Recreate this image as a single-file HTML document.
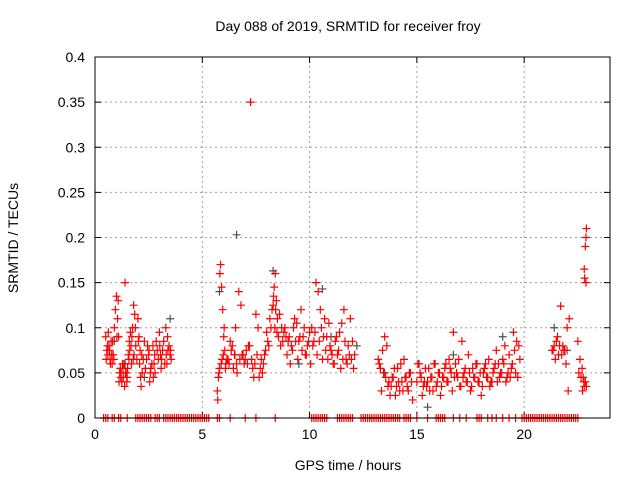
<!DOCTYPE html>
<html><head><meta charset="utf-8"><style>
body{margin:0;background:#fff;font-family:"Liberation Sans",sans-serif}
svg text{font-family:"Liberation Sans",sans-serif;font-size:14px;fill:#000}
</style></head><body>
<svg id="c" width="640" height="480" xmlns="http://www.w3.org/2000/svg">
<text x="348" y="31" text-anchor="middle">Day 088 of 2019, SRMTID for receiver froy</text>
<text x="348" y="470" text-anchor="middle">GPS time / hours</text>
<text transform="translate(18,238) rotate(-90)" text-anchor="middle">SRMTID / TECUs</text>
<g id="grid"></g>
<g id="ticks"></g>
<g id="grey"></g>
<g id="red"></g>
<rect x="95" y="57" width="515" height="361" fill="none" stroke="#000" stroke-width="1"/>
</svg>
<script>
const xTicks=[0,5,10,15,20];
const yTicks=[0,0.05,0.1,0.15,0.2,0.25,0.3,0.35,0.4];
const yLabels=["0","0.05","0.1","0.15","0.2","0.25","0.3","0.35","0.4"];
const redT=[0.5,0.55,0.6,0.65,0.7,0.75,0.8,0.85,0.9,0.95,1.0,1.05,1.1,1.15,1.2,1.25,1.3,1.35,1.4,1.45,1.5,1.55,1.6,1.65,1.7,1.75,1.8,1.85,1.9,1.95,2.0,2.05,2.1,2.15,2.2,2.3,2.4,2.5,2.55,2.6,2.7,2.75,2.8,2.9,3.0,3.05,3.1,3.2,3.3,3.35,3.4,3.5,3.55,
5.7,5.75,5.8,5.82,5.85,5.9,5.95,6.0,6.05,6.1,6.2,6.3,6.4,6.5,6.55,6.6,6.7,6.8,6.9,7.0,7.1,7.2,7.25,7.3,7.4,7.5,7.6,7.7,7.8,7.9,8.0,8.1,8.2,8.3,8.35,8.4,8.45,8.5,8.6,8.7,8.8,8.9,9.0,9.1,9.2,9.3,9.4,9.5,9.6,9.7,9.8,9.9,10.0,10.1,10.2,10.3,10.4,10.5,10.6,10.7,10.8,10.9,11.0,11.1,11.2,11.3,11.4,11.5,11.6,11.7,11.8,11.9,12.0,12.1,
13.2,13.3,13.4,13.5,13.6,13.7,13.8,13.9,14.0,14.1,14.2,14.3,14.4,14.5,14.6,14.7,14.8,15.0,15.1,15.2,15.3,15.4,15.5,15.6,15.7,15.8,15.9,16.0,16.1,16.2,16.3,16.4,16.5,16.6,16.7,16.8,16.9,17.0,17.1,17.2,17.3,17.4,17.5,17.6,17.7,17.8,17.9,18.0,18.1,18.2,18.3,18.4,18.5,18.6,18.7,18.8,18.9,19.0,19.1,19.2,19.3,19.4,19.5,19.6,19.7,19.8,
21.3,21.4,21.5,21.6,21.7,21.8,21.9,22.0,22.1,22.5,22.6,22.7,22.75,22.8,22.85,22.9];
const redV=[0.09,0.075,0.07,0.08,0.065,0.085,0.06,0.07,0.1,0.12,0.135,0.11,0.09,0.05,0.045,0.04,0.055,0.06,0.15,0.05,0.045,0.07,0.085,0.095,0.06,0.1,0.125,0.115,0.08,0.065,0.11,0.09,0.075,0.035,0.05,0.085,0.065,0.07,0.04,0.055,0.08,0.06,0.05,0.075,0.095,0.07,0.065,0.085,0.1,0.06,0.075,0.07,0.065,
0.03,0.045,0.055,0.16,0.17,0.145,0.12,0.09,0.075,0.06,0.065,0.085,0.08,0.07,0.1,0.06,0.14,0.125,0.07,0.065,0.06,0.08,0.35,0.065,0.045,0.115,0.1,0.055,0.05,0.07,0.095,0.08,0.1,0.125,0.145,0.16,0.13,0.11,0.115,0.1,0.095,0.09,0.085,0.06,0.075,0.11,0.105,0.085,0.12,0.09,0.07,0.08,0.095,0.1,0.085,0.15,0.14,0.12,0.065,0.11,0.09,0.105,0.075,0.06,0.085,0.07,0.095,0.105,0.12,0.065,0.08,0.11,0.085,0.07,0.065,0.055,0.075,0.09,0.08,
0.04,0.035,0.045,0.025,0.055,0.03,0.04,0.065,0.045,0.03,0.05,0.02,0.04,0.06,0.045,0.035,0.055,0.04,0.03,0.045,0.06,0.035,0.05,0.025,0.045,0.055,0.04,0.065,0.05,0.095,0.06,0.045,0.035,0.085,0.05,0.04,0.07,0.03,0.055,0.045,0.06,0.04,0.025,0.05,0.06,0.045,0.035,0.04,0.055,0.075,0.06,0.05,0.065,0.08,0.045,0.07,0.055,0.095,0.05,0.045,0.065,0.075,0.08,0.085,0.07,0.124,
0.08,0.075,0.1,0.11,0.085,0.065,0.055,0.045,0.035,0.04,0.035,0.05,0.065,0.165,0.19,0.21];
const red2T=[0.52,0.58,0.62,0.68,0.72,0.78,0.82,0.88,1.02,1.08,1.12,1.18,1.22,1.28,1.32,1.38,1.42,1.48,1.52,1.58,1.62,1.68,1.72,1.78,1.82,1.88,2.02,2.08,2.12,2.18,2.25,2.35,2.45,2.52,2.58,2.65,2.72,2.78,2.85,2.95,3.02,3.08,3.15,3.25,3.32,3.38,3.45,3.52,
5.72,5.78,5.88,5.92,5.98,6.02,6.08,6.15,6.25,6.35,6.45,6.52,6.62,6.75,6.85,6.95,7.05,7.15,7.35,7.45,7.55,7.65,7.75,7.85,7.95,8.05,8.15,8.25,8.32,8.38,8.42,8.48,8.55,8.65,8.75,8.85,8.95,9.05,9.15,9.25,9.35,9.45,9.55,9.65,9.75,9.85,9.95,10.05,10.15,10.25,10.35,10.45,10.55,10.65,10.75,10.85,10.95,11.05,11.15,11.25,11.35,11.45,11.55,11.65,11.75,11.85,11.95,12.05,
13.25,13.35,13.45,13.55,13.65,13.75,13.85,13.95,14.05,14.15,14.25,14.35,14.45,14.55,14.65,14.75,15.05,15.15,15.25,15.35,15.45,15.55,15.65,15.75,15.85,15.95,16.05,16.15,16.25,16.35,16.45,16.55,16.65,16.75,16.85,16.95,17.05,17.15,17.25,17.35,17.45,17.55,17.65,17.75,17.85,17.95,18.05,18.15,18.25,18.35,18.45,18.55,18.65,18.75,18.85,18.95,19.05,19.15,19.25,19.35,19.45,19.55,19.65,19.75,
21.35,21.45,21.55,21.65,21.75,21.85,21.95,22.05,22.55,22.65,22.72,22.78,22.82,22.88];
const red2V=[0.065,0.08,0.095,0.075,0.06,0.07,0.085,0.065,0.09,0.13,0.04,0.055,0.05,0.06,0.045,0.035,0.05,0.04,0.055,0.065,0.075,0.08,0.09,0.065,0.07,0.1,0.085,0.06,0.045,0.07,0.065,0.055,0.08,0.075,0.05,0.06,0.045,0.07,0.085,0.065,0.08,0.055,0.075,0.06,0.07,0.09,0.08,0.075,
0.02,0.05,0.06,0.065,0.07,0.1,0.055,0.065,0.06,0.075,0.055,0.07,0.05,0.065,0.07,0.06,0.075,0.08,0.055,0.06,0.07,0.045,0.065,0.06,0.075,0.085,0.11,0.12,0.135,0.1,0.12,0.095,0.09,0.08,0.085,0.1,0.07,0.09,0.08,0.1,0.085,0.065,0.09,0.075,0.1,0.07,0.085,0.06,0.08,0.095,0.07,0.085,0.1,0.09,0.075,0.065,0.08,0.07,0.06,0.09,0.075,0.055,0.065,0.085,0.06,0.07,0.065,0.055,0.06,
0.03,0.05,0.045,0.035,0.025,0.045,0.055,0.035,0.04,0.06,0.03,0.045,0.035,0.05,0.04,0.06,0.05,0.025,0.04,0.035,0.055,0.045,0.03,0.06,0.04,0.05,0.035,0.045,0.06,0.04,0.055,0.03,0.045,0.05,0.065,0.035,0.045,0.055,0.04,0.05,0.035,0.045,0.06,0.04,0.05,0.035,0.055,0.045,0.065,0.04,0.05,0.06,0.04,0.045,0.05,0.06,0.04,0.05,0.045,0.06,0.075,0.085,0.08,0.075,
0.065,0.09,0.08,0.07,0.075,0.06,0.03,0.05,0.045,0.03,0.04,0.155,0.15,0.175];
const lateT=[22.8,22.85,22.88,22.9];
const lateV=[0.165,0.19,0.2,0.21];
const greyT=[0.9,1.4,2.3,3.5,5.8,6.6,8.3,9.5,10.6,11.0,12.2,13.5,15.5,16.7,19.0,21.4,22.0];
const greyV=[0.085,0.06,0.045,0.11,0.14,0.203,0.163,0.06,0.143,0.09,0.08,0.05,0.012,0.07,0.09,0.1,0.075];
const zeroT=[0.4,0.5,0.6,0.8,0.9,1.1,1.2,1.5,1.9,2.0,2.1,2.2,2.3,2.4,2.5,2.6,2.8,2.9,3.0,3.2,3.3,3.4,3.5,3.6,3.7,3.8,3.9,4.0,4.1,4.2,4.3,4.4,4.5,4.6,4.7,4.8,4.9,5.0,5.1,5.2,5.3,5.7,5.8,6.3,7.0,7.5,8.4,10.1,10.2,10.3,10.4,10.5,10.6,10.7,10.8,11.3,11.4,11.5,11.6,11.7,11.8,11.9,12.0,12.4,12.5,12.6,12.7,12.8,12.9,13.0,13.1,13.2,13.3,13.4,13.5,13.6,13.7,13.8,13.9,14.0,14.1,14.2,14.4,14.5,14.6,14.7,15.0,15.5,15.9,16.0,16.1,16.2,16.3,16.7,17.0,17.3,17.8,17.9,18.0,18.3,18.5,18.7,19.0,19.3,19.6,19.9,20.0,20.1,20.2,20.3,20.4,20.5,20.6,20.7,20.8,20.9,21.0,21.1,21.2,21.3,21.4,21.5,21.6,21.7,21.8,21.9,22.0,22.1,22.2,22.3,22.4,22.5];
const X0=95,X1=610,Y0=418,Y1=57;
const xs=t=>X0+(t/24)*(X1-X0);
const ys=v=>Y0-(v/0.4)*(Y0-Y1);
const NS="http://www.w3.org/2000/svg";
function mk(tag,parent,attrs){const e=document.createElementNS(NS,tag);for(const k in attrs)e.setAttribute(k,attrs[k]);parent.appendChild(e);return e;}
const grid=document.getElementById('grid'),ticks=document.getElementById('ticks');
xTicks.forEach(t=>{const x=xs(t);
 if(t>0){const g=mk('line',grid,{x1:x,x2:x,y1:Y0,y2:Y1,stroke:'#a0a0a0','stroke-dasharray':'2,3'});}
 mk('line',ticks,{x1:x,x2:x,y1:Y0,y2:Y0-6,stroke:'#000'});mk('line',ticks,{x1:x,x2:x,y1:Y1,y2:Y1+6,stroke:'#000'});
 const l=mk('text',ticks,{x:x,y:Y0+21,'text-anchor':'middle'});l.textContent=t;
 });
yTicks.forEach((v,i)=>{const y=ys(v);
 if(i>0&&i<yTicks.length-1){const g=mk('line',grid,{x1:X0,x2:X1,y1:y,y2:y,stroke:'#a0a0a0','stroke-dasharray':'2,3'});}
 mk('line',ticks,{x1:X0,x2:X0+6,y1:y,y2:y,stroke:'#000'});mk('line',ticks,{x1:X1,x2:X1-6,y1:y,y2:y,stroke:'#000'});
 const l=mk('text',ticks,{x:X0-10,y:y+5,'text-anchor':'end'});l.textContent=yLabels[i];
 });
function plus(g,t,v,col,name){const x=xs(t),y=ys(v);
 const p=mk('path',g,{d:`M${x-4} ${y}H${x+4}M${x} ${y-4}V${y+4}`,stroke:col,'stroke-width':1.2});
 }
const grey=document.getElementById('grey'),red=document.getElementById('red');
greyT.forEach((t,i)=>plus(grey,t,greyV[i],'#505050','grey-point'));
redT.forEach((t,i)=>plus(red,t,redV[i],'#ff0000','red-point'));
red2T.forEach((t,i)=>plus(red,t,red2V[i],'#ff0000','red-point'));
lateT.forEach((t,i)=>plus(red,t,lateV[i],'#ff0000','red-point'));
zeroT.forEach(t=>plus(red,t,0,'#ff0000','zero-point'));
</script>
</body></html>
